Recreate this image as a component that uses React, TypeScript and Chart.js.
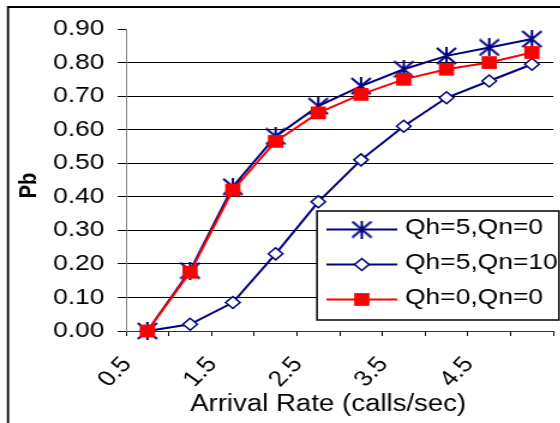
import React, { useEffect, useRef } from 'react';
import { Chart, registerables } from 'chart.js';

Chart.register(...registerables);

// ---- data ----
const categories = ['0.5', '1.0', '1.5', '2.0', '2.5', '3.0', '3.5', '4.0', '4.5', '5.0'];
const seriesNames = ['Qh=5,Qn=0', 'Qh=5,Qn=10', 'Qh=0,Qn=0'];
const qh5qn0 = [0.0, 0.18, 0.43, 0.58, 0.67, 0.73, 0.78, 0.82, 0.845, 0.87];
const qh5qn10 = [0.0, 0.02, 0.085, 0.23, 0.385, 0.51, 0.61, 0.695, 0.745, 0.795];
const qh0qn0 = [0.0, 0.175, 0.42, 0.565, 0.65, 0.705, 0.75, 0.78, 0.8, 0.83];
const yMin = 0;
const yMax = 0.9;
const yStep = 0.1;
const xTitle = 'Arrival Rate (calls/sec)   ';
const yTitle = 'Pb  ';

// ---- layout / style ----
const SX = 1.2; // horizontal stretch of the picture
const W = 480;
const H = 423;
const NAVY = '#000080';
const RED = '#FF0000';
const FONT = "'Liberation Sans', Arial, sans-serif";

function makeStar(): HTMLCanvasElement {
  const c = document.createElement('canvas');
  c.width = 18;
  c.height = 18;
  const g = c.getContext('2d')!;
  g.strokeStyle = NAVY;
  g.lineWidth = 2;
  g.beginPath();
  g.moveTo(1, 1);
  g.lineTo(17, 17);
  g.moveTo(17, 1);
  g.lineTo(1, 17);
  g.moveTo(9, 0);
  g.lineTo(9, 18);
  g.stroke();
  return c;
}

export default function App() {
  const ref = useRef<HTMLCanvasElement>(null);

  useEffect(() => {
    const canvas = ref.current;
    if (!canvas) return;
    const star = makeStar();

    const frame = {
      id: 'frame',
      afterDraw(chart: any) {
        const ctx = chart.ctx;
        ctx.save();
        ctx.strokeStyle = '#000';
        ctx.lineWidth = 1.8;
        ctx.beginPath();
        ctx.moveTo(8 / SX, H + 5);
        ctx.lineTo(8 / SX, 7);
        ctx.lineTo(W + 5, 7);
        ctx.stroke();
        ctx.restore();
      },
    };

    const legendBox = {
      id: 'legendBox',
      afterDatasetsDraw(chart: any) {
        const ctx = chart.ctx;
        const x0 = 317 / SX;
        const x1 = 559 / SX;
        const y0 = 211;
        const y1 = 320;
        ctx.save();
        ctx.fillStyle = '#fff';
        ctx.fillRect(x0, y0, x1 - x0, y1 - y0);
        ctx.strokeStyle = '#000';
        ctx.lineWidth = 1.5;
        ctx.strokeRect(x0, y0, x1 - x0, y1 - y0);
        const rows = [229.5, 264.5, 299.5];
        const lx0 = 272;
        const lx1 = 331;
        const mx = (lx0 + lx1) / 2;
        const tx = 337.5;
        chart.data.datasets.forEach((ds: any, i: number) => {
          const y = rows[i];
          ctx.strokeStyle = ds.borderColor;
          ctx.lineWidth = 2;
          ctx.beginPath();
          ctx.moveTo(lx0, y);
          ctx.lineTo(lx1, y);
          ctx.stroke();
          if (i === 0) {
            ctx.drawImage(star, mx - star.width / 2, y - star.height / 2);
          } else if (i === 1) {
            const r = 6;
            ctx.beginPath();
            ctx.moveTo(mx - r, y);
            ctx.lineTo(mx, y - r);
            ctx.lineTo(mx + r, y);
            ctx.lineTo(mx, y + r);
            ctx.closePath();
            ctx.fillStyle = '#fff';
            ctx.fill();
            ctx.lineWidth = 1.5;
            ctx.strokeStyle = NAVY;
            ctx.stroke();
          } else {
            const s = 9 * Math.SQRT1_2;
            ctx.fillStyle = RED;
            ctx.fillRect(mx - s, y - s, 2 * s, 2 * s);
          }
          ctx.fillStyle = '#000';
          ctx.font = `22px ${FONT}`;
          ctx.textAlign = 'left';
          ctx.textBaseline = 'middle';
          ctx.fillText(seriesNames[i], tx, y - 1.5);
        });
        ctx.restore();
      },
    };

    const chart = new Chart(canvas, {
      type: 'line',
      data: {
        labels: categories,
        datasets: [
          {
            label: seriesNames[0],
            data: qh5qn0,
            borderColor: NAVY,
            backgroundColor: NAVY,
            borderWidth: 2,
            pointStyle: star as any,
            pointRadius: 8,
            tension: 0,
            clip: false as any,
            order: 2,
          },
          {
            label: seriesNames[1],
            data: qh5qn10,
            borderColor: NAVY,
            backgroundColor: '#fff',
            borderWidth: 2,
            pointStyle: 'rectRot',
            pointRadius: 6,
            pointBorderWidth: 1.5,
            pointBackgroundColor: '#fff',
            pointBorderColor: NAVY,
            tension: 0,
            clip: false as any,
            order: 1,
          },
          {
            label: seriesNames[2],
            data: qh0qn0,
            borderColor: RED,
            backgroundColor: RED,
            borderWidth: 2,
            pointStyle: 'rect',
            pointRadius: 9,
            pointBorderWidth: 0,
            pointBackgroundColor: RED,
            tension: 0,
            clip: false as any,
            order: 0,
          },
        ],
      },
      options: {
        responsive: false,
        animation: false,
        events: [],
        layout: { padding: { left: 8, top: 29, right: W - 105 - 366.7, bottom: 0 } },
        plugins: {
          legend: { display: false },
          tooltip: { enabled: false },
        },
        scales: {
          x: {
            type: 'category',
            offset: true,
            afterFit: (s: any) => {
              s.height = H - 331;
            },
            grid: {
              offset: true,
              drawOnChartArea: false,
              drawTicks: true,
              tickLength: 5,
              tickColor: '#000',
            },
            border: { display: true, color: '#333', width: 1 },
            ticks: {
              autoSkip: false,
              maxRotation: 50,
              minRotation: 50,
              padding: 16,
              labelOffset: -17,
              color: '#000',
              font: { family: FONT, size: 22 },
              callback: (_v: any, i: number) => (i % 2 === 0 ? categories[i] : ''),
            },
            title: {
              display: true,
              text: xTitle,
              color: '#000',
              font: { family: FONT, size: 23 },
              padding: { top: 0, bottom: 5 },
            },
          },
          y: {
            min: yMin,
            max: yMax,
            afterFit: (s: any) => {
              s.width = 97;
            },
            grid: {
              color: (c: any) =>
                c.tick && (c.tick.value > yMax - yStep / 2 || c.tick.value < yStep / 2) ? 'rgba(0,0,0,0)' : '#000',
              tickColor: '#000',
              tickLength: 7,
              lineWidth: 1,
            },
            border: { display: true, color: '#808080', width: 1 },
            ticks: {
              stepSize: yStep,
              padding: 11,
              color: '#000',
              font: { family: FONT, size: 22 },
              callback: (v: any) => Number(v).toFixed(2),
            },
            title: {
              display: true,
              text: yTitle,
              color: '#000',
              font: { family: FONT, size: 20, weight: 'bold' },
              padding: { top: 4, bottom: 4 },
            },
          },
        },
      },
      plugins: [frame, legendBox],
    } as any);

    return () => chart.destroy();
  }, []);

  return (
    <div
      style={{
        position: 'fixed',
        left: 0,
        top: 0,
        width: 560,
        height: 423,
        overflow: 'hidden',
        background: '#fff',
      }}
    >
      <canvas
        ref={ref}
        width={W}
        height={H}
        style={{ position: 'absolute', left: 0, top: 0, width: W * SX, height: H, display: 'block' }}
      />
    </div>
  );
}
